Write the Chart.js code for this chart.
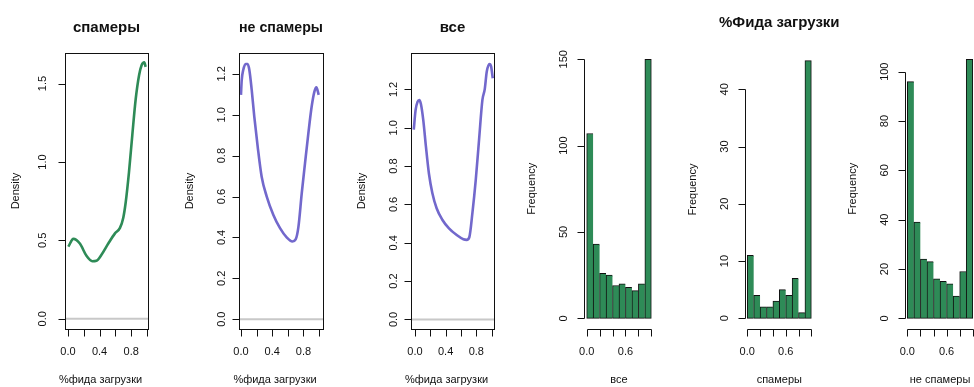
<!DOCTYPE html>
<html>
<head>
<meta charset="utf-8">
<script src="https://cdn.jsdelivr.net/npm/chart.js@4.4.0/dist/chart.umd.min.js"></script>
<style>
html, body { margin: 0; padding: 0; background: #fff; overflow: hidden; width: 974px; height: 387px; }
canvas { position: absolute; top: 0; }
</style>
</head>
<body>
<canvas id="c1" width="165" height="387" style="left:0px"></canvas>
<canvas id="c2" width="165" height="387" style="left:165px"></canvas>
<canvas id="c3" width="170" height="387" style="left:330px"></canvas>
<canvas id="c4" width="162" height="387" style="left:500px"></canvas>
<canvas id="c5" width="190" height="387" style="left:662px"></canvas>
<canvas id="c6" width="160" height="387" style="left:822px"></canvas>
<script>
const FONT = '"Liberation Sans", Arial, sans-serif';

// плотности (x, y)
const spamX = [0.004, 0.068, 0.15, 0.236, 0.308, 0.36, 0.426, 0.51, 0.595, 0.658, 0.70, 0.73, 0.772, 0.814, 0.857, 0.90, 0.932, 0.966, 0.983];
const spamY = [0.46, 0.51, 0.48, 0.40, 0.367, 0.37, 0.41, 0.48, 0.545, 0.58, 0.645, 0.74, 0.934, 1.17, 1.40, 1.553, 1.617, 1.635, 1.607];

const hamX = [0.0, 0.01, 0.03, 0.06, 0.085, 0.107, 0.138, 0.171, 0.214, 0.265, 0.33, 0.415, 0.50, 0.585, 0.658, 0.70, 0.735, 0.778, 0.82, 0.863, 0.905, 0.94, 0.965, 0.995];
const hamY = [1.097, 1.17, 1.22, 1.248, 1.248, 1.22, 1.12, 0.99, 0.844, 0.697, 0.60, 0.51, 0.445, 0.40, 0.38, 0.39, 0.45, 0.616, 0.763, 0.91, 1.04, 1.113, 1.134, 1.097];

const allX = [-0.015, 0.009, 0.035, 0.057, 0.078, 0.109, 0.144, 0.183, 0.227, 0.283, 0.357, 0.444, 0.545, 0.632, 0.675, 0.71, 0.749, 0.793, 0.836, 0.88, 0.91, 0.937, 0.972, 0.993, 1.015];
const allY = [0.99, 1.093, 1.136, 1.145, 1.124, 1.04, 0.90, 0.76, 0.66, 0.58, 0.52, 0.475, 0.44, 0.418, 0.415, 0.43, 0.553, 0.727, 0.936, 1.145, 1.2, 1.293, 1.333, 1.32, 1.258];

// гистограммы, интервалы по 0.1
const binMids = [0.05, 0.15, 0.25, 0.35, 0.45, 0.55, 0.65, 0.75, 0.85, 0.95];
const histAll = [107, 43, 26, 25, 19, 20, 18, 16, 20, 150];
const histSpam = [11, 4, 2, 2, 3, 5, 4, 7, 1, 45];
const histHam = [96, 39, 24, 23, 16, 15, 14, 9, 19, 105];

// деления осей
const xTicks = [0, 0.2, 0.4, 0.6, 0.8, 1.0];
const densXLabels = [0, 0.4, 0.8];
const histXLabels = [0, 0.6];
const spamYTicks = [0, 0.5, 1.0, 1.5];
const densYTicks = [0, 0.2, 0.4, 0.6, 0.8, 1.0, 1.2];
const allHistYTicks = [0, 50, 100, 150];
const spamHistYTicks = [0, 10, 20, 30, 40];
const hamHistYTicks = [0, 20, 40, 60, 80, 100];

const GREEN = '#2E8B57';
const BLUE = '#7268CC';

// оси в стиле R: рамка, засечки наружу, подписи повернуты
const rAxes = {
    id: 'rAxes',
    afterDraw(chart, args, o) {
        const { ctx, chartArea: a } = chart;
        const x = chart.scales.x, y = chart.scales.y;
        const px = v => Math.round(x.getPixelForValue(v)) + 0.5;
        const py = v => Math.round(y.getPixelForValue(v)) + 0.5;
        const L = Math.round(a.left) + 0.5;
        const B = Math.round(a.bottom) + 0.5;
        ctx.save();
        if (o.zero) {
            ctx.strokeStyle = '#c8c8c8';
            ctx.lineWidth = 2;
            ctx.beginPath();
            ctx.moveTo(a.left, y.getPixelForValue(0));
            ctx.lineTo(a.right, y.getPixelForValue(0));
            ctx.stroke();
        }
        ctx.strokeStyle = '#111';
        ctx.fillStyle = '#111';
        ctx.lineWidth = 1;
        if (o.box) {
            ctx.strokeRect(L, Math.round(a.top) + 0.5, Math.round(a.right) - Math.round(a.left), Math.round(a.bottom) - Math.round(a.top));
        }
        const xt = o.xTicks, yt = o.yTicks;
        ctx.beginPath();
        ctx.moveTo(px(xt[0]), B);
        ctx.lineTo(px(xt[xt.length - 1]), B);
        xt.forEach(v => { ctx.moveTo(px(v), B); ctx.lineTo(px(v), B + 7); });
        ctx.moveTo(L, py(yt[0]));
        ctx.lineTo(L, py(yt[yt.length - 1]));
        yt.forEach(v => { ctx.moveTo(L, py(v)); ctx.lineTo(L - 7, py(v)); });
        ctx.stroke();

        ctx.font = '11px ' + FONT;
        ctx.textAlign = 'center';
        ctx.textBaseline = 'middle';
        o.xLabels.forEach(v => ctx.fillText(v.toFixed(1), x.getPixelForValue(v), a.bottom + 23));
        yt.forEach(v => {
            ctx.save();
            ctx.translate(a.left - o.yLabOff, y.getPixelForValue(v));
            ctx.rotate(-Math.PI / 2);
            ctx.fillText(o.yFmt(v), 0, 0);
            ctx.restore();
        });
        ctx.fillText(o.xTitle, (a.left + a.right) / 2 + (o.xTitleDx || 0), a.bottom + 51);
        ctx.save();
        ctx.translate(a.left - o.yTitleOff, (a.top + a.bottom) / 2);
        ctx.rotate(-Math.PI / 2);
        ctx.fillText(o.yTitle, 0, 0);
        ctx.restore();

        // общий заголовок над гистограммами, шире области графика
        if (o.mainTitle) {
            ctx.font = 'bold 15px ' + FONT;
            ctx.fillText(o.mainTitle, (a.left + a.right) / 2, o.mainTitleY);
        }
        ctx.restore();
    }
};

function titleOpts(text, top, bottom) {
    return {
        display: !!text,
        text: text,
        fullSize: false,
        color: '#111',
        font: { family: FONT, size: 15, weight: 'bold' },
        padding: { top: top, bottom: bottom }
    };
}

function densityChart(id, xs, ys, color, title, xr, yr, pad, axes) {
    return new Chart(document.getElementById(id), {
        type: 'line',
        data: {
            datasets: [{
                data: xs.map((v, i) => ({ x: v, y: ys[i] })),
                borderColor: color,
                borderWidth: 2.6,
                pointRadius: 0,
                cubicInterpolationMode: 'monotone',
                fill: false
            }]
        },
        options: {
            responsive: false,
            animation: false,
            layout: { padding: pad },
            scales: {
                x: { type: 'linear', display: false, min: xr[0], max: xr[1] },
                y: { display: false, min: yr[0], max: yr[1] }
            },
            plugins: {
                legend: { display: false },
                tooltip: { enabled: false },
                title: titleOpts(title, 19, 16),
                rAxes: Object.assign({
                    box: true, zero: true, xTicks: xTicks, xLabels: densXLabels,
                    xTitle: '%фида загрузки', xTitleDx: -6, yTitle: 'Density',
                    yLabOff: 17, yTitleOff: 49, yFmt: v => v.toFixed(1)
                }, axes)
            }
        },
        plugins: [rAxes]
    });
}

function histChart(id, counts, xr, yr, pad, axes) {
    const n = counts.length;
    return new Chart(document.getElementById(id), {
        type: 'bar',
        data: {
            datasets: [{
                data: binMids.map((v, i) => ({ x: v, y: counts[i] })),
                backgroundColor: GREEN,
                borderColor: '#111',
                borderWidth: c => c.dataIndex === n - 1 ? 1 : { top: 1, left: 1, bottom: 1, right: 0 },
                borderSkipped: false,
                barPercentage: 1,
                categoryPercentage: 1
            }]
        },
        options: {
            responsive: false,
            animation: false,
            layout: { padding: pad },
            scales: {
                x: { type: 'linear', display: false, offset: false, min: xr[0], max: xr[1], ticks: { stepSize: 0.1, includeBounds: false } },
                y: { display: false, min: yr[0], max: yr[1] }
            },
            plugins: {
                legend: { display: false },
                tooltip: { enabled: false },
                title: { display: false },
                rAxes: Object.assign({
                    box: false, zero: false, xTicks: xTicks, xLabels: histXLabels,
                    yTitle: 'Frequency', yLabOff: 20, yTitleOff: 52, yFmt: v => String(v)
                }, axes)
            }
        },
        plugins: [rAxes]
    });
}

densityChart('c1', spamX, spamY, GREEN, 'спамеры', [-0.038, 1.013], [-0.065, 1.695],
    { left: 65, right: 17, top: 0, bottom: 58 }, { yTicks: spamYTicks, yLabOff: 22 });
densityChart('c2', hamX, hamY, BLUE, 'не спамеры', [-0.025, 1.05], [-0.048, 1.302],
    { left: 74, right: 7, top: 0, bottom: 58 }, { yTicks: densYTicks });
densityChart('c3', allX, allY, BLUE, 'все', [-0.055, 1.035], [-0.05, 1.39],
    { left: 80.7, right: 5.7, top: 0, bottom: 58 }, { yTicks: densYTicks });

histChart('c4', histAll, [-0.04, 1.04], [-6, 156],
    { left: 84.1, right: 8.1, top: 48.9, bottom: 58.3 }, { yTicks: allHistYTicks, xTitle: 'все' });
histChart('c5', histSpam, [-0.04, 1.04], [-1.8, 46.8],
    { left: 82.7, right: 38.1, top: 50.4, bottom: 58.4 },
    { yTicks: spamHistYTicks, xTitle: 'спамеры', mainTitle: '%Фида загрузки', mainTitleY: 23 });
histChart('c6', histHam, [-0.04, 1.04], [-4.2, 109.2],
    { left: 82.7, right: 6.6, top: 49, bottom: 58.3 }, { yTicks: hamHistYTicks, xTitle: 'не спамеры' });
</script>
</body>
</html>
